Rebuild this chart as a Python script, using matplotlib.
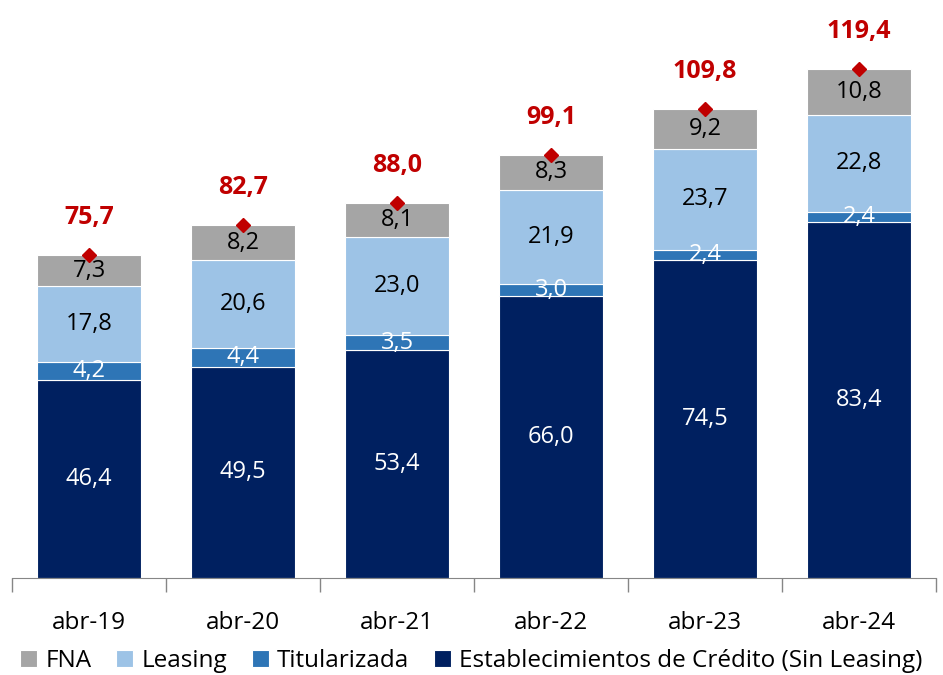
import matplotlib
matplotlib.use("Agg")
import matplotlib.pyplot as plt
import numpy as np

categories = ["abr-19", "abr-20", "abr-21", "abr-22", "abr-23", "abr-24"]
establecimientos = [46.4, 49.5, 53.4, 66.0, 74.5, 83.4]
titularizada = [4.2, 4.4, 3.5, 3.0, 2.4, 2.4]
leasing = [17.8, 20.6, 23.0, 21.9, 23.7, 22.8]
fna = [7.3, 8.2, 8.1, 8.3, 9.2, 10.8]
totals = [75.7, 82.7, 88.0, 99.1, 109.8, 119.4]

series = [
    ("Establecimientos de Crédito (Sin Leasing)", establecimientos, "#002060", "white"),
    ("Titularizada", titularizada, "#2E75B6", "white"),
    ("Leasing", leasing, "#9DC3E6", "black"),
    ("FNA", fna, "#A5A5A5", "black"),
]

plt.rcParams["font.family"] = ["Open Sans", "DejaVu Sans"]

fig = plt.figure(figsize=(9.43, 6.75), dpi=100)
ax = fig.add_axes([12 / 943, 1 - 578 / 675, 924 / 943, 568 / 675])

x = np.arange(len(categories))
bottom = np.zeros(len(categories))
handles = {}
for name, vals, color, tcolor in series:
    vals = np.array(vals)
    bars = ax.bar(x, vals, 0.67, bottom=bottom, color=color, edgecolor="white",
                  linewidth=0.8, label=name)
    handles[name] = bars
    for xi, b, v in zip(x, bottom, vals):
        ax.text(xi, b + v / 2, f"{v:.1f}".replace(".", ","), ha="center", va="center",
                color=tcolor, fontsize=17)
    bottom += vals

ax.plot(x, totals, linestyle="none", marker="D", color="#C00000", markersize=7)
for xi, t in zip(x, totals):
    ax.annotate(f"{t:.1f}".replace(".", ","), (xi, t), xytext=(0, 27),
                textcoords="offset points", ha="center", va="center",
                color="#C00000", fontsize=18, fontweight="bold")

ax.set_xlim(-0.5, len(categories) - 0.5)
ax.set_ylim(0, 568 / 4.267)
ax.set_yticks([])
for s in ["top", "right", "left"]:
    ax.spines[s].set_visible(False)
ax.spines["bottom"].set_color("#868686")
ax.set_xticks(x)
ax.set_xticklabels(categories, fontsize=17.5)
ax.tick_params(axis="x", which="major", length=0, pad=24)
ax.set_xticks(np.arange(-0.5, len(categories)), minor=True)
ax.tick_params(axis="x", which="minor", length=10, color="#868686", width=1)

order = ["FNA", "Leasing", "Titularizada", "Establecimientos de Crédito (Sin Leasing)"]
fig.legend([handles[n] for n in order], order, loc="center", bbox_to_anchor=(0.5, 1 - 661 / 675),
           ncol=4, frameon=False, fontsize=17.5, handlelength=0.7, handleheight=0.7,
           handletextpad=0.35, columnspacing=1.0)

fig.savefig("out.png", dpi=100)
